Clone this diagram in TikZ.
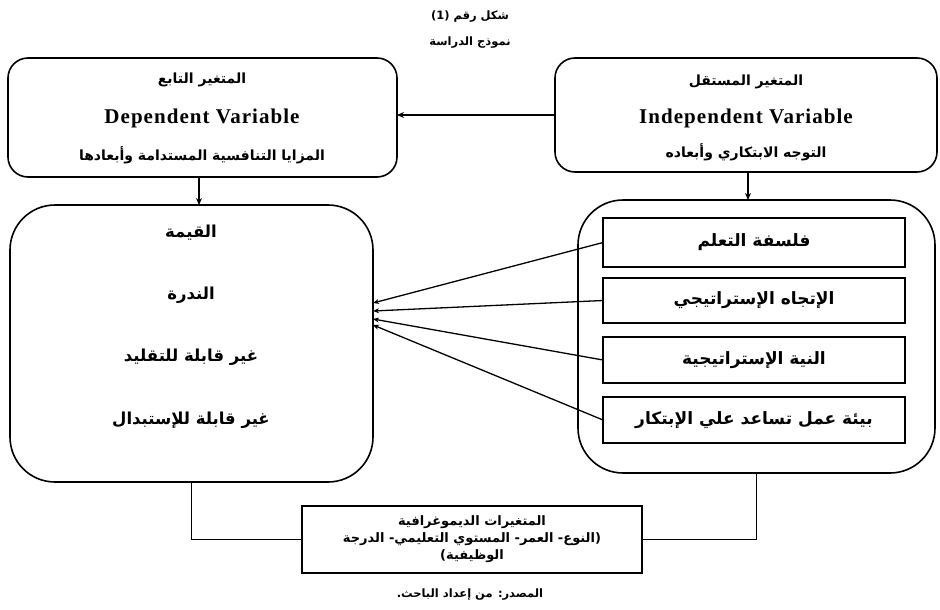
\documentclass[tikz,border=0pt]{standalone}
\usepackage{fontspec}
\setmainfont{Liberation Serif}
\newfontfamily\enfont[LetterSpace=5]{Liberation Serif}
\newfontfamily\arabicfont[Script=Arabic]{DejaVu Sans}
\TeXXeTstate=1
\usetikzlibrary{arrows.meta,calc}
\newcommand{\artxt}[1]{\beginR #1\endR}
\begin{document}
\begin{tikzpicture}[x=1pt,y=-1pt,
  every node/.style={inner sep=0pt, outer sep=0pt},
  frame/.style={draw, line width=1.6pt, rounded corners=20pt},
  bigframe/.style={draw, line width=1.6pt, rounded corners=45pt},
  dimbox/.style={draw, line width=1.6pt, minimum width=302pt},
  demobox/.style={draw, line width=1.6pt, minimum width=340pt, minimum height=67pt},
  ar/.style={font=\arabicfont\bfseries\fontsize{11.5}{13}\selectfont},
  artop/.style={font=\arabicfont\bfseries\fontsize{14}{16}\selectfont},
  arbig/.style={font=\arabicfont\bfseries\fontsize{16.5}{18}\selectfont},
  ardim/.style={font=\arabicfont\bfseries\fontsize{17}{19}\selectfont},
  arsmall/.style={font=\arabicfont\bfseries\fontsize{13}{17}\selectfont, align=center},
  en/.style={font=\enfont\bfseries\fontsize{21}{23}\selectfont},
  conn/.style={line width=1.4pt},
  arr/.style={line width=1.4pt, -{Stealth[length=7pt,width=6pt]}},
  fan/.style={line width=1.3pt, -{Stealth[length=6pt,width=5pt]}}]
\useasboundingbox (0,0) rectangle (940,610);

% titles
\node[ar] (title) at (470,17) {\artxt{شكل رقم (1)}};
\node[ar] (subtitle) at (470,43) {\artxt{نموذج الدراسة}};

% top boxes
\node[frame, minimum width=389pt, minimum height=119pt] (D) at (202.5,117.5) {};
\node[frame, minimum width=382pt, minimum height=114pt] (I) at (746,115) {};
\node[artop] (d1) at (202,80) {\artxt{المتغير التابع}};
\node[en] (d2) at (202,118) {Dependent Variable};
\node[artop] (d3) at (202,155) {\artxt{المزايا التنافسية المستدامة وأبعادها}};
\node[artop] (i1) at (746,82) {\artxt{المتغير المستقل}};
\node[en] (i2) at (746,118) {Independent Variable};
\node[artop] (i3) at (746,152) {\artxt{التوجه الابتكاري وأبعاده}};

% big boxes
\node[bigframe, minimum width=363pt, minimum height=277pt] (L) at (191.5,343.5) {};
\node[bigframe, minimum width=357pt, minimum height=273pt] (R) at (756.5,336.5) {};
\node[arbig] (l1) at (191,233) {\artxt{القيمة}};
\node[arbig] (l2) at (191,295) {\artxt{الندرة}};
\node[arbig] (l3) at (191,357) {\artxt{غير قابلة للتقليد}};
\node[arbig] (l4) at (191,420) {\artxt{غير قابلة للإستبدال}};

% dimension boxes
\node[dimbox, minimum height=49pt, ardim] (b1) at (754,242.5) {\artxt{فلسفة التعلم}};
\node[dimbox, minimum height=45pt, ardim] (b2) at (754,300.5) {\artxt{الإتجاه الإستراتيجي}};
\node[dimbox, minimum height=46pt, ardim] (b3) at (754,360) {\artxt{النية الإستراتيجية}};
\node[dimbox, minimum height=46pt, ardim] (b4) at (754,420) {\artxt{بيئة عمل تساعد علي الإبتكار}};

% demographic box
\node[demobox, arsmall] (M) at (472,539.5) {\artxt{المتغيرات الديموغرافية}\\\artxt{(النوع- العمر- المستوي التعليمي- الدرجة}\\\artxt{الوظيفية)}};

% source
\node[ar] (src) at (470,595) {\artxt{المصدر: من إعداد الباحث.}};

% connectors
\draw[arr] (I.west) -- (I.west -| D.east);
\draw[arr] (D.south -| 199,0) -- (L.north -| 199,0);
\draw[arr] (I.south -| 748,0) -- (R.north -| 748,0);

\coordinate (t1) at ($(L.east)+(0,-40.5)$);
\coordinate (t2) at ($(L.east)+(0,-32.5)$);
\coordinate (t3) at ($(L.east)+(0,-24.5)$);
\coordinate (t4) at ($(L.east)+(0,-18.5)$);
\draw[fan] (b1.west) -- (t1);
\draw[fan] (b2.west) -- (t2);
\draw[fan] (b3.west) -- (t3);
\draw[fan] (b4.west) -- (t4);

\draw[conn] (L.south) |- (M.west);
\draw[conn] (R.south) |- (M.east);
\end{tikzpicture}
\end{document}
